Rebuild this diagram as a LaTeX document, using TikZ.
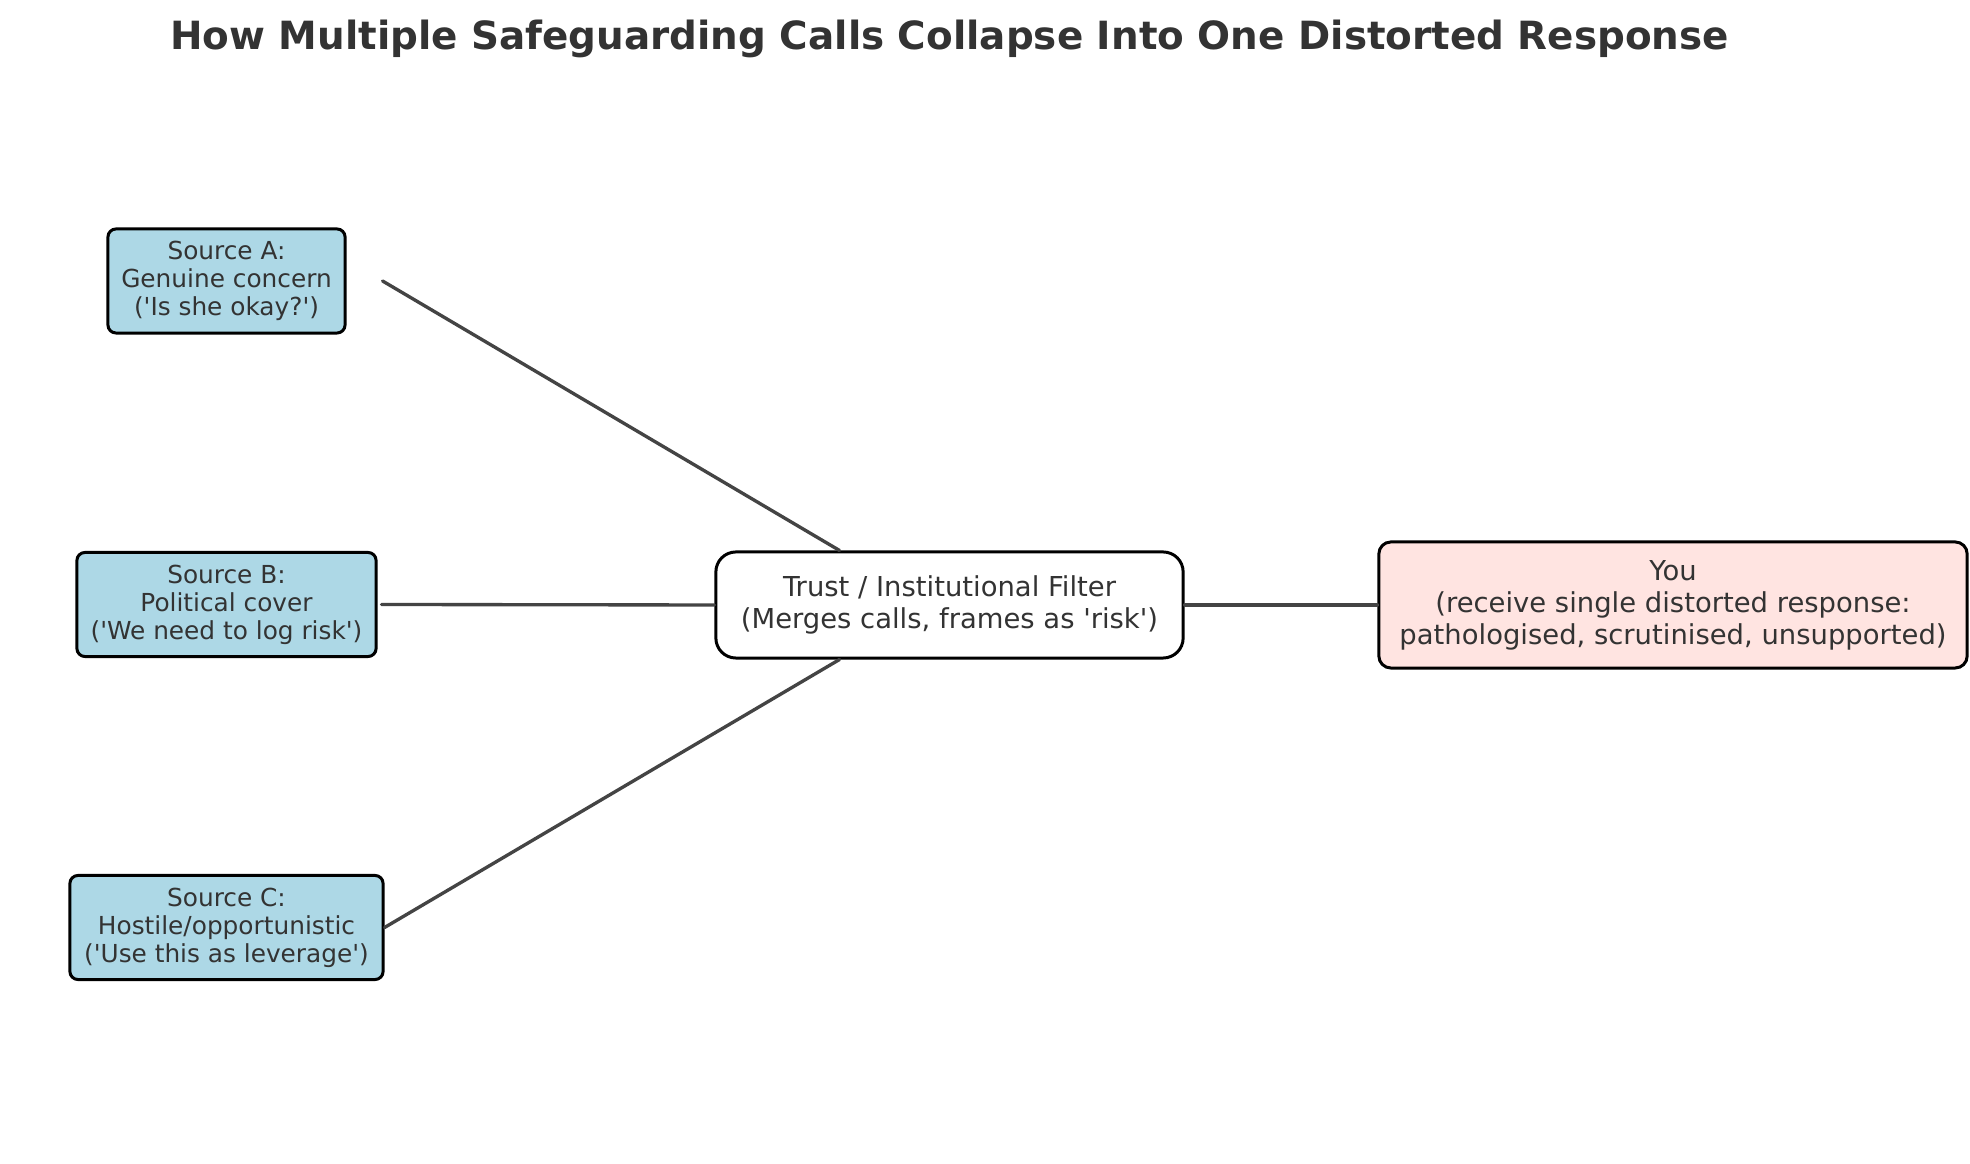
\documentclass[tikz,border=0pt]{standalone}
\usepackage{fontspec}
\setmainfont{DejaVu Sans}
\usepackage{tikz}
\usetikzlibrary{calc}
\definecolor{srcblue}{HTML}{ADD8E6}
\definecolor{youpink}{HTML}{FFE4E1}
\definecolor{txtgrey}{HTML}{333333}
\definecolor{linegrey}{HTML}{444444}
\newcommand{\sq}{\textquotesingle}
\tikzset{
  srcbox/.style={draw=black,line width=0.85pt,fill=srcblue,rounded corners=0.08cm,
    align=center,inner sep=0pt,minimum height=1.04cm,text=txtgrey,
    font=\fontsize{7.05}{7.95}\selectfont},
  mainbox/.style={draw=black,line width=0.85pt,align=center,inner sep=0pt,
    text=txtgrey,font=\fontsize{7.8}{9.1}\selectfont},
  link/.style={draw=linegrey,line width=0.95pt}
}
\begin{document}
\begin{tikzpicture}[x=0.01cm,y=0.01cm,line cap=round,line join=round]
                \useasboundingbox (0,0) rectangle (1970,1164);
                \fill [white] (0,0) rectangle (1970,1164);
                % title
                \node [anchor=base,text=txtgrey,font=\fontsize{11.05}{14}\selectfont\bfseries] (title) at (949.5,1114)
                {How Multiple Safeguarding Calls Collapse Into One Distorted Response};
                % sources
                \node [srcbox,minimum width=2.37cm] (srcA) at (226.5,883) {Source A:\\Genuine concern\\(\sq Is she okay?\sq)};
                \node [srcbox,minimum width=2.99cm] (srcB) at (226.5,559.5) {Source B:\\Political cover\\(\sq We need to log risk\sq)};
                \node [srcbox,minimum width=3.13cm] (srcC) at (226.5,236.5) {Source C:\\Hostile/opportunistic\\(\sq Use this as leverage\sq)};
                % filter and receiver
                \node [mainbox,fill=white,rounded corners=0.2cm,minimum width=4.67cm,minimum height=1.06cm] (filter) at (949.5,559)
                {Trust / Institutional Filter\\(Merges calls, frames as \sq risk\sq)};
                \node [mainbox,fill=youpink,rounded corners=0.12cm,minimum width=5.88cm,minimum height=1.26cm] (you) at (1673,559)
                {You\\(receive single distorted response:\\pathologised, scrutinised, unsupported)};
                % connectors
                \draw [link] ($(srcA.east)+(36,0)$) -- ($(filter.north)+(-110,0)$);
                \draw [link] ($(srcB.east)+(4,0)$) -- (filter.west);
                \draw [link] (srcC.east) -- ($(filter.south)+(-110,0)$);
                \draw [link] (filter.east) -- (you.west);
            \end{tikzpicture}
\end{document}
